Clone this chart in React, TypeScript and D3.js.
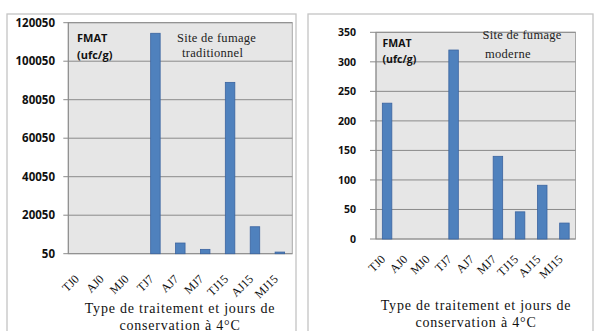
import React from "react";
import * as d3 from "d3";

const categories = ["TJ0", "AJ0", "MJ0", "TJ7", "AJ7", "MJ7", "TJ15", "AJ15", "MJ15"];
const traditionalValues = [0, 0, 0, 114550, 5600, 2300, 89050, 14050, 900];
const modernValues = [230, 0, 0, 320, 0, 140, 46, 91, 27];
const traditionalTicks = [50, 20050, 40050, 60050, 80050, 100050, 120050];
const modernTicks = [0, 50, 100, 150, 200, 250, 300, 350];
const unitLines = ["FMAT", "(ufc/g)"];
const traditionalSite = ["Site de fumage", "traditionnel"];
const modernSite = ["Site de fumage", "moderne"];
const axisTitle = ["Type de traitement et jours de", "conservation à 4°C"];

type PanelProps = {
  values: number[];
  ticks: number[];
  domain: [number, number];
  frame: { x0: number; x1: number; y0: number };
  plot: { x0: number; x1: number; y0: number; y1: number };
  tickFont: number;
  labelRight: number;
  tickLen: number;
  unit: { x: number; y: number; size: number; gap: number };
  site: { lines: string[]; x: number[]; y: number[] };
  xLabelDy: number;
  title: { cx: number; y: number[] };
};

const SERIF = "'Liberation Serif', 'Times New Roman', serif";
const SANS = "'Open Sans', 'Liberation Sans', sans-serif";

function Panel(p: PanelProps) {
  const x = d3.scaleBand<string>().domain(categories).range([p.plot.x0, p.plot.x1]);
  const y = d3.scaleLinear().domain(p.domain).range([p.plot.y1, p.plot.y0]);
  const barW = 9.5;
  return (
    <g>
      <rect x={p.frame.x0} y={p.frame.y0} width={p.frame.x1 - p.frame.x0} height={400} fill="#fff" stroke="#c4c4c4" strokeWidth={1.3} />
      <rect x={p.plot.x0} y={p.plot.y0} width={p.plot.x1 - p.plot.x0} height={p.plot.y1 - p.plot.y0} fill="#e6e6e6" stroke="#a8a8a8" strokeWidth={1} />
      {p.ticks.map((t) => (
        <g key={t}>
          <line x1={p.plot.x0 - p.tickLen} x2={p.plot.x1} y1={y(t)} y2={y(t)} stroke="#8a8a8a" strokeWidth={1} />
          <text x={p.labelRight} y={y(t)} dy="0.36em" textAnchor="end" fontFamily={SANS} fontWeight={700} fontSize={p.tickFont} fill="#111">{t}</text>
        </g>
      ))}
      <line x1={p.plot.x0} x2={p.plot.x0} y1={p.plot.y0} y2={p.plot.y1} stroke="#8a8a8a" />
      {p.values.map((v, i) => {
        const c = (x(categories[i]) as number) + x.bandwidth() / 2;
        const top = y(Math.max(v, p.domain[0]));
        const h = p.plot.y1 - top;
        return h > 0.3 ? (
          <rect key={i} x={c - barW / 2} y={top} width={barW} height={h} fill="#4f81bd" stroke="#3b64a0" strokeWidth={0.8} />
        ) : null;
      })}
      {categories.map((cat) => {
        const c = (x(cat) as number) + x.bandwidth() / 2 - 1;
        const ly = p.plot.y1 + p.xLabelDy;
        return (
          <text key={cat} x={c} y={ly} textAnchor="end" transform={`rotate(-45 ${c} ${ly})`} fontFamily={SERIF} fontSize={12} fill="#111">{cat}</text>
        );
      })}
      {unitLines.map((l, i) => (
        <text key={l} x={p.unit.x} y={p.unit.y + i * p.unit.gap} fontFamily={SANS} fontWeight={700} fontSize={p.unit.size} fill="#111">{l}</text>
      ))}
      {p.site.lines.map((l, i) => (
        <text key={l} x={p.site.x[i]} y={p.site.y[i]} fontFamily={SERIF} fontSize={12.5} letterSpacing={0.3} fill="#222">{l}</text>
      ))}
      {axisTitle.map((l, i) => (
        <text key={l} x={p.title.cx} y={p.title.y[i]} textAnchor="middle" fontFamily={SERIF} fontSize={14} letterSpacing={0.8} fill="#111">{l}</text>
      ))}
    </g>
  );
}

export default function App() {
  return (
    <svg width={594} height={331} style={{ position: "absolute", left: 0, top: 0, background: "#fff" }}>
      <Panel
        values={traditionalValues}
        ticks={traditionalTicks}
        domain={[50, 120050]}
        frame={{ x0: 7, x1: 296, y0: 14 }}
        plot={{ x0: 68.3, x1: 292.3, y0: 22.7, y1: 253.7 }}
        tickFont={11.5}
        labelRight={55}
        tickLen={5}
        unit={{ x: 77, y: 42, size: 11, gap: 17 }}
        site={{ lines: traditionalSite, x: [177, 182], y: [42, 56.5] }}
        xLabelDy={26}
        title={{ cx: 180, y: [312.5, 329.5] }}
      />
      <Panel
        values={modernValues}
        ticks={modernTicks}
        domain={[0, 350]}
        frame={{ x0: 308, x1: 593, y0: 14 }}
        plot={{ x0: 376, x1: 575.5, y0: 32.3, y1: 239 }}
        tickFont={10.5}
        labelRight={356}
        tickLen={6}
        unit={{ x: 382.5, y: 46.5, size: 10.5, gap: 16.5 }}
        site={{ lines: modernSite, x: [482.5, 485], y: [38.5, 57.5] }}
        xLabelDy={21}
        title={{ cx: 476, y: [309.5, 327] }}
      />
    </svg>
  );
}
